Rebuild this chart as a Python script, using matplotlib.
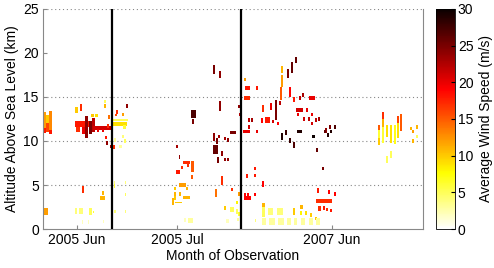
import numpy as np
import matplotlib
matplotlib.use("Agg")
import matplotlib.pyplot as plt
from matplotlib.colors import Normalize
from matplotlib.cm import ScalarMappable

plt.rcParams['font.family'] = ['Liberation Sans', 'DejaVu Sans']

# observation cells: start/end index, altitude bottom/top (km), wind speed (m/s)
t0 = [0, 0, 3, 3, 6, 6, 0, 32, 37, 32, 33, 42, 46, 49, 39, 50, 48, 52, 54, 59,
      61, 61, 65, 64, 62, 63, 67, 39, 59, 57, 32, 36, 46, 50, 39, 45, 60,
      70, 70, 73, 72, 79, 83, 80, 71, 79, 81, 76, 70, 71, 71, 82, 82, 71, 82,
      133, 136, 138, 133, 140, 148, 144, 148, 136, 131, 131, 131, 136, 140, 129, 132,
      143, 145, 141, 148, 149, 170, 176, 176, 170, 173, 175, 181, 184, 187, 170, 178,
      174, 181, 184, 178, 172, 188, 195, 193, 181, 187, 193, 195, 183, 194, 195, 196,
      201, 202, 213, 201, 238, 238, 237, 244, 248, 252, 246, 250, 259, 256, 266, 219,
      227, 232, 236, 222, 218, 229, 234, 253, 263, 254, 260, 265, 268, 268, 272, 275,
      213, 200, 205, 205, 208, 238, 242, 246, 250, 254, 269, 282, 286, 291, 287, 284,
      281, 273, 279,
      203, 211, 211, 219, 201, 204, 201, 211, 274, 285, 291, 273, 275, 280, 283, 287,
      219, 219, 225, 234, 250, 257, 257, 262, 267, 272,
      219, 226, 235, 244, 251, 258, 266, 273, 212, 197,
      335, 335, 335, 339, 339, 339, 343, 343, 347, 347, 351, 354, 354, 357,
      367, 369, 369, 373, 373]
t1 = [3, 3, 6, 6, 9, 9, 5, 35, 39, 47, 37, 45, 49, 52, 42, 69, 51, 55, 56, 61,
      63, 63, 67, 66, 64, 65, 69, 41, 61, 62, 34, 40, 49, 51, 40, 46, 61,
      84, 85, 75, 74, 81, 85, 83, 73, 81, 83, 79, 72, 72, 72, 83, 83, 73, 83,
      135, 137, 140, 137, 147, 151, 146, 150, 143, 133, 133, 133, 138, 147, 131, 139,
      145, 150, 143, 153, 151, 172, 178, 178, 172, 175, 177, 183, 186, 193, 175, 180,
      176, 183, 186, 180, 174, 190, 197, 195, 183, 191, 195, 197, 186, 196, 197, 198,
      203, 207, 215, 207, 240, 240, 239, 246, 250, 254, 248, 252, 261, 258, 272, 221,
      229, 234, 238, 227, 220, 231, 236, 260, 265, 256, 262, 267, 270, 270, 274, 277,
      215, 207, 207, 207, 210, 240, 244, 248, 252, 259, 272, 284, 288, 293, 289, 286,
      283, 275, 281,
      205, 213, 213, 221, 203, 206, 208, 213, 276, 287, 293, 289, 278, 282, 285, 289,
      222, 222, 230, 240, 252, 260, 259, 264, 269, 274,
      223, 232, 241, 248, 254, 262, 270, 277, 213, 199,
      337, 337, 337, 341, 341, 341, 345, 345, 349, 349, 353, 356, 356, 359,
      369, 371, 371, 375, 375]
z0 = [11.5, 10.9, 12.0, 11.0, 11.3, 10.8, 1.6, 13.2, 13.4, 11.6, 11.0, 10.3, 10.8, 11.0, 10.8,
      11.3, 12.7, 12.7, 11.0, 11.0, 14.3, 13.8, 12.5, 11.5, 10.2, 9.6, 9.2, 4.1, 3.9, 3.3,
      1.7, 1.7, 1.6, 1.8, 0.6, 0.6, 0.7,
      11.7, 12.3, 13.1, 12.8, 12.8, 13.8, 11.4, 9.9, 10.3, 9.8, 9.2, 9.1, 5.0, 4.7, 5.1, 3.7,
      1.8, 1.8,
      9.2, 8.0, 6.8, 6.2, 7.4, 6.5, 7.0, 5.7, 4.8, 4.4, 3.8, 3.3, 3.8, 3.4, 2.7, 2.9,
      4.4, 0.7, 0.8, 12.6, 11.9, 17.6, 17.2, 13.4, 10.0, 9.7, 10.3, 10.1, 9.9, 10.8, 8.5, 8.3,
      7.5, 7.7, 7.7, 5.0, 3.6, 4.3, 3.8, 2.8, 2.2, 1.9, 1.7, 1.5, 0.7, 0.9, 13.7, 12.8,
      16.8, 15.8, 15.8, 14.7, 17.7, 16.1, 14.7, 17.2, 17.7, 18.9, 15.0, 14.4, 15.0, 14.7, 14.7, 13.3,
      13.5, 12.4, 14.1, 12.0, 12.0, 12.0, 11.8, 13.3, 13.3, 12.8, 12.3, 12.3, 12.8, 11.8, 12.2, 12.3,
      10.9, 10.9, 12.2, 11.4, 12.2, 10.1, 10.7, 9.8, 9.2, 10.9, 10.3, 10.9, 11.4, 11.4, 10.9, 10.5,
      10.9, 8.8, 6.7,
      5.8, 6.7, 5.9, 4.8, 3.7, 3.7, 3.3, 3.7, 4.1, 4.0, 3.8, 2.9, 2.0, 2.2, 2.0, 1.9,
      2.5, 1.4, 1.6, 1.6, 1.6, 2.3, 1.6, 1.6, 1.4, 1.0,
      0.5, 0.5, 0.5, 0.5, 0.5, 0.5, 0.5, 0.5, 0.8, 2.0,
      11.2, 10.3, 9.5, 12.5, 11.6, 9.8, 10.4, 7.5, 9.8, 8.1, 9.7, 12.0, 10.3, 11.1,
      11.2, 10.9, 9.8, 11.4, 10.3]
z1 = [13.3, 11.5, 13.0, 12.0, 13.4, 11.3, 2.4, 13.9, 14.2, 12.3, 11.6, 12.8, 12.3, 12.6, 11.6,
      11.7, 13.1, 13.1, 11.4, 11.4, 14.7, 14.2, 12.9, 11.9, 10.6, 10.0, 9.6, 4.9, 4.3, 3.7,
      2.4, 2.4, 2.4, 2.1, 1.0, 1.0, 1.0,
      12.2, 12.5, 13.5, 13.1, 13.2, 14.2, 11.8, 10.3, 10.7, 10.2, 9.6, 9.5, 5.4, 5.1, 5.5, 4.1,
      2.2, 2.2,
      9.6, 8.4, 7.2, 6.7, 7.7, 7.7, 7.4, 6.1, 5.2, 4.8, 4.2, 3.7, 4.2, 3.8, 3.5, 3.1,
      4.8, 1.3, 1.2, 13.5, 12.5, 18.6, 17.9, 14.5, 10.9, 10.3, 10.7, 10.5, 10.3, 11.1, 9.5, 8.9,
      8.2, 8.1, 8.1, 6.0, 4.5, 4.7, 4.2, 3.2, 2.6, 2.5, 2.3, 1.9, 1.1, 1.3, 14.1, 13.2,
      17.2, 16.3, 16.2, 15.1, 18.5, 17.5, 16.1, 18.2, 19.0, 19.6, 16.1, 15.0, 15.4, 15.1, 15.1, 14.1,
      14.3, 14.7, 14.5, 12.7, 12.6, 12.4, 12.2, 13.7, 13.7, 13.2, 12.7, 12.7, 13.2, 12.2, 12.6, 12.7,
      11.3, 11.3, 12.6, 11.8, 12.6, 10.9, 11.2, 10.3, 9.9, 11.3, 10.7, 11.5, 11.8, 11.8, 11.3, 10.9,
      11.3, 9.2, 7.1,
      6.2, 7.1, 6.3, 5.5, 4.1, 4.1, 3.7, 4.1, 4.7, 4.4, 4.2, 3.4, 2.6, 2.6, 2.4, 2.3,
      3.0, 2.5, 2.4, 2.4, 2.4, 2.7, 2.0, 2.0, 1.8, 1.4,
      1.2, 1.2, 1.2, 1.2, 1.2, 1.2, 1.2, 1.2, 1.1, 2.7,
      11.8, 11.2, 10.3, 13.3, 12.5, 11.6, 11.8, 8.3, 11.8, 8.9, 11.8, 12.8, 12.0, 13.1,
      11.6, 11.3, 10.2, 11.8, 10.7]
wind = [12, 18, 10, 16, 13, 18, 12, 10, 17, 18, 17, 24, 25, 22, 20, 21, 10, 9, 20, 20,
        5, 11, 14, 17, 18, 24, 23, 17, 11, 11, 4, 4, 5, 6, 2, 2, 2,
        9, 5, 17, 16, 12, 24, 6, 3, 4, 5, 3, 17, 4, 6, 4, 5, 4, 4,
        23, 24, 17, 18, 17, 15, 17, 15, 12, 10, 11, 10, 11, 11, 11, 10,
        11, 3, 2, 27, 25, 25, 24, 24, 24, 25, 23, 23, 24, 25, 26, 24,
        25, 24, 24, 17, 14, 17, 12, 8, 10, 5, 5, 6, 2, 3, 24, 22,
        12, 18, 18, 17, 11, 12, 15, 25, 26, 26, 19, 18, 23, 22, 20, 17,
        20, 25, 22, 18, 19, 21, 19, 21, 20, 20, 21, 22, 20, 21, 22, 23,
        20, 20, 22, 21, 23, 29, 28, 28, 27, 29, 30, 24, 25, 27, 29, 29,
        26, 26, 25,
        18, 18, 18, 19, 19, 19, 19, 19, 18, 19, 19, 17, 17, 18, 17, 18,
        11, 5, 4, 4, 10, 11, 8, 9, 10, 10,
        3, 3, 3, 3, 3, 3, 3, 3, 4, 5,
        15, 6, 10, 17, 11, 6, 9, 5, 9, 5, 7, 16, 9, 15,
        11, 12, 11, 11, 5]

tick_pos = [34, 134, 289]
tick_labels = ['2005 Jun', '2005 Jul', '2007 Jun']
breaks = [69, 198.5]

t0 = np.array(t0, float)
t1 = np.array(t1, float)
z0 = np.array(z0, float)
z1 = np.array(z1, float)
wind = np.array(wind, float)

cmap = plt.get_cmap('hot_r')
norm = Normalize(0, 30)

fig = plt.figure(figsize=(4.94, 2.68), dpi=100)
ax = fig.add_axes([0.087, 0.1455, 0.769, 0.821])
cax = fig.add_axes([0.8826, 0.1455, 0.0385, 0.821])

ax.bar(t0, z1 - z0, width=t1 - t0, bottom=z0, align='edge',
       color=cmap(norm(wind)), linewidth=0, zorder=2)

for b in breaks:
    ax.axvline(b, color='black', lw=1.6, zorder=3)
for y in [5, 10, 15, 25]:
    ax.axhline(y, color='#888888', lw=0.8, ls=(0, (1, 2.5)), zorder=1)

ax.set_xlim(0, 380)
ax.set_ylim(0, 25)
ax.set_yticks([0, 5, 10, 15, 20, 25])
ax.set_xticks(tick_pos)
ax.set_xticklabels(tick_labels)
ax.tick_params(direction='in', length=3, color='#888888', labelsize=10, pad=3)
ax.spines['top'].set_visible(False)
for s in ['left', 'right', 'bottom']:
    ax.spines[s].set_color('#888888')
ax.set_xlabel('Month of Observation', fontsize=10, labelpad=1)
ax.set_ylabel('Altitude Above Sea Level (km)', fontsize=10, labelpad=3)

sm = ScalarMappable(norm=norm, cmap=cmap)
cb = fig.colorbar(sm, cax=cax)
cb.set_ticks([0, 5, 10, 15, 20, 25, 30])
cb.ax.tick_params(direction='in', length=3, labelsize=10, pad=2)
cb.outline.set_linewidth(0.6)
cb.set_label('Average Wind Speed (m/s)', fontsize=10, labelpad=4)

fig.savefig('out.png', dpi=100)
